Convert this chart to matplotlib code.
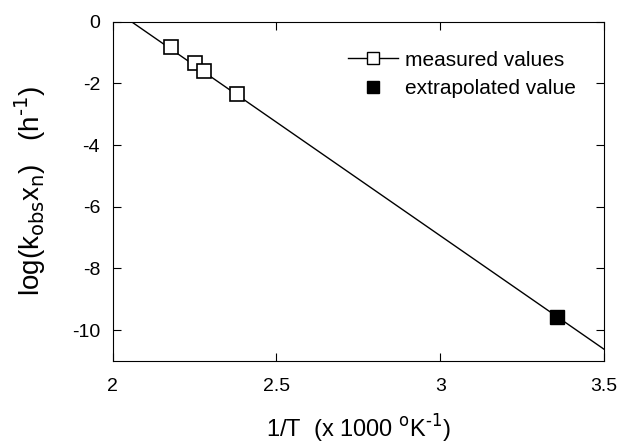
import matplotlib.pyplot as plt

plt.rcParams['font.family'] = ['Liberation Sans', 'DejaVu Sans']
plt.rcParams['axes.unicode_minus'] = False

# measured data
inv_T = [2.177, 2.251, 2.278, 2.380]
log_k = [-0.83, -1.34, -1.58, -2.33]

# extrapolated value
inv_T_ext = [3.357]
log_k_ext = [-9.57]

# regression line end points
fit_x = [2.058, 3.5]
fit_y = [0.0, -10.62]

fig = plt.figure(figsize=(6.22, 4.45), dpi=100)
ax = fig.add_axes([0.181, 0.189, 0.790, 0.762])

ax.plot(fit_x, fit_y, color='black', linewidth=1)
ax.plot(inv_T, log_k, linestyle='none', marker='s', markersize=9.5,
        markerfacecolor='white', markeredgecolor='black', markeredgewidth=1.2)
ax.plot(inv_T_ext, log_k_ext, linestyle='none', marker='s', markersize=9.5,
        color='black')

# legend handles
ax.plot([], [], color='black', linewidth=1, marker='s', markersize=8,
        markerfacecolor='white', markeredgecolor='black', label='measured values')
ax.plot([], [], linestyle='none', marker='s', markersize=8, color='black',
        label='extrapolated value')
ax.legend(loc='upper left', bbox_to_anchor=(0.479, 0.915), frameon=False,
          fontsize=15, handlelength=2.4, handletextpad=0.35, labelspacing=0.45,
          borderpad=0, borderaxespad=0)

ax.set_xlim(2, 3.5)
ax.set_ylim(-11, 0)
ax.set_xticks([2, 2.5, 3, 3.5])
ax.set_xticklabels(['2', '2.5', '3', '3.5'])
ax.set_yticks([0, -2, -4, -6, -8, -10])
ax.tick_params(direction='in', top=True, right=True, labelsize=14, length=6)
ax.tick_params(axis='x', pad=12)
ax.tick_params(axis='y', pad=9)

ax.set_xlabel(r'1/T  (x 1000 $^{\rm o}$K$^{\text{-1}}$)', fontsize=17, labelpad=13)
ax.set_ylabel(r'log(k$_{\rm obs}$x$_{\rm n}$)   (h$^{\text{-1}}$)', fontsize=20,
              labelpad=17)

fig.savefig('out.png', dpi=100)
